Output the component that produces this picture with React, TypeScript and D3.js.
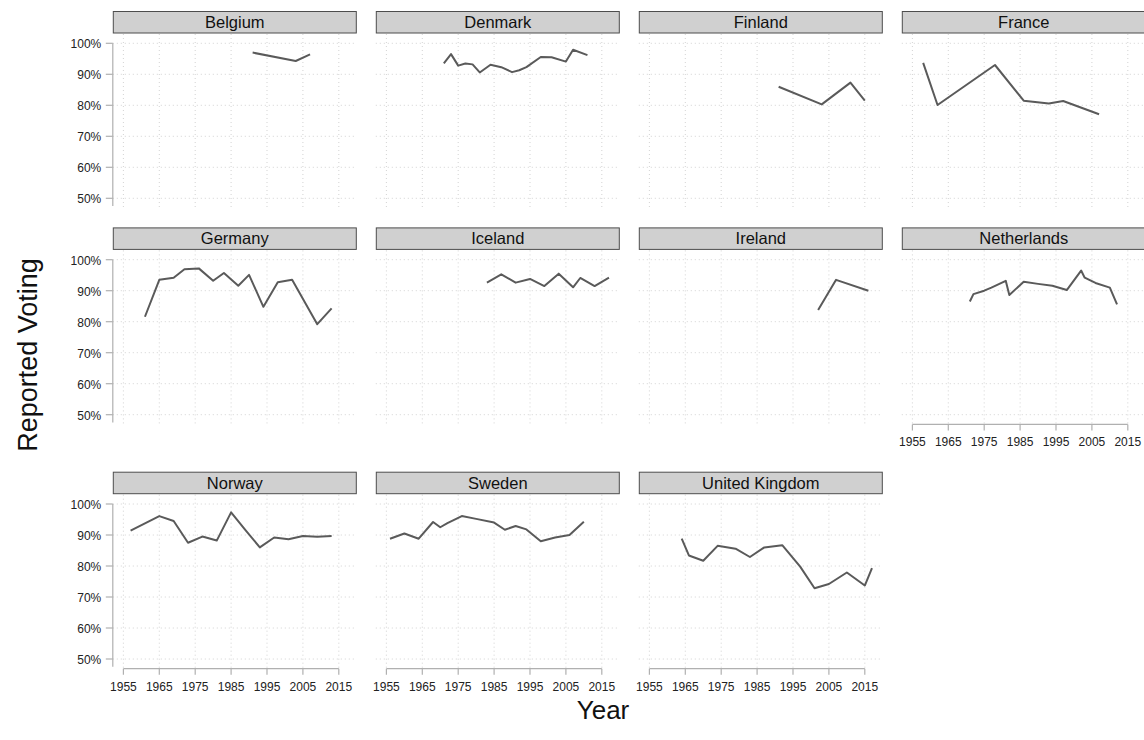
import React from "react";
import * as d3 from "d3";

const countries = ["Belgium", "Denmark", "Finland", "France", "Germany", "Iceland", "Ireland", "Netherlands", "Norway", "Sweden", "United Kingdom"];

const belgiumYears = [1991, 2003, 2007];
const belgiumVoting = [0.970, 0.943, 0.964];
const denmarkYears = [1971, 1973, 1975, 1977, 1979, 1981, 1984, 1987, 1990, 1992, 1994, 1998, 2001, 2005, 2007, 2011];
const denmarkVoting = [0.935, 0.965, 0.928, 0.935, 0.932, 0.906, 0.931, 0.923, 0.907, 0.913, 0.923, 0.956, 0.955, 0.941, 0.979, 0.962];
const finlandYears = [1991, 2003, 2011, 2015];
const finlandVoting = [0.860, 0.803, 0.873, 0.815];
const franceYears = [1958, 1962, 1978, 1986, 1993, 1997, 2007];
const franceVoting = [0.937, 0.801, 0.930, 0.815, 0.806, 0.814, 0.771];
const germanyYears = [1961, 1965, 1969, 1972, 1976, 1980, 1983, 1987, 1990, 1994, 1998, 2002, 2009, 2013];
const germanyVoting = [0.816, 0.935, 0.942, 0.969, 0.972, 0.932, 0.957, 0.916, 0.951, 0.848, 0.927, 0.935, 0.792, 0.843];
const icelandYears = [1983, 1987, 1991, 1995, 1999, 2003, 2007, 2009, 2013, 2017];
const icelandVoting = [0.926, 0.953, 0.926, 0.938, 0.915, 0.955, 0.911, 0.941, 0.915, 0.942];
const irelandYears = [2002, 2007, 2016];
const irelandVoting = [0.838, 0.935, 0.900];
const netherlandsYears = [1971, 1972, 1975, 1977, 1981, 1982, 1986, 1990, 1994, 1998, 2002, 2003, 2006, 2010, 2012];
const netherlandsVoting = [0.865, 0.889, 0.900, 0.910, 0.932, 0.886, 0.929, 0.922, 0.916, 0.902, 0.965, 0.942, 0.925, 0.910, 0.856];
const norwayYears = [1957, 1965, 1969, 1973, 1977, 1981, 1985, 1989, 1993, 1997, 2001, 2005, 2009, 2013];
const norwayVoting = [0.914, 0.961, 0.945, 0.875, 0.895, 0.882, 0.973, 0.916, 0.860, 0.892, 0.886, 0.897, 0.894, 0.897];
const swedenYears = [1956, 1960, 1964, 1968, 1970, 1972, 1976, 1980, 1985, 1988, 1991, 1994, 1998, 2002, 2006, 2010];
const swedenVoting = [0.888, 0.905, 0.888, 0.942, 0.925, 0.938, 0.961, 0.952, 0.940, 0.917, 0.929, 0.918, 0.880, 0.892, 0.900, 0.943];
const ukYears = [1964, 1966, 1970, 1974, 1979, 1983, 1987, 1992, 1997, 2001, 2005, 2010, 2015, 2017];
const ukVoting = [0.888, 0.834, 0.817, 0.865, 0.856, 0.829, 0.860, 0.867, 0.798, 0.728, 0.742, 0.779, 0.737, 0.793];

const yearTicks = [1955, 1965, 1975, 1985, 1995, 2005, 2015];
const votingTicks = [0.5, 0.6, 0.7, 0.8, 0.9, 1.0];

const seriesYears = [belgiumYears, denmarkYears, finlandYears, franceYears, germanyYears, icelandYears, irelandYears, netherlandsYears, norwayYears, swedenYears, ukYears];
const seriesVoting = [belgiumVoting, denmarkVoting, finlandVoting, franceVoting, germanyVoting, icelandVoting, irelandVoting, netherlandsVoting, norwayVoting, swedenVoting, ukVoting];

const FONT = "Liberation Sans, Arial, Helvetica, sans-serif";
const colLeft0 = 112.8;
const colStep = 263;
const panelW = 244;
const rowY100 = [43.3, 259.7, 504];
const stripH = 21.5;

export default function App() {
  const pct = d3.format(".0%");
  const panels = countries.map((name, i) => {
    const col = i % 4;
    const row = Math.floor(i / 4);
    const left = colLeft0 + col * colStep;
    const y100 = rowY100[row];
    const stripTop = y100 - 31.8;
    const panelTop = stripTop + stripH + 1;
    const panelBottom = y100 + 163.7;
    const x = d3.scaleLinear().domain([1955, 2015]).range([left + 10.6, left + 226]);
    const y = d3.scaleLinear().domain([0.5, 1]).range([y100 + 155, y100]);
    const pts = seriesYears[i].map((yr, k) => [yr, seriesVoting[i][k]] as [number, number]);
    const line = d3.line<[number, number]>().x(d => x(d[0])).y(d => y(d[1]));
    const showX = row === 2 || i === 7;
    const showY = col === 0;
    return (
      <g key={name}>
        {votingTicks.map(t => (
          <line key={"h" + t} x1={left} x2={left + panelW} y1={y(t)} y2={y(t)} stroke="#c8c8c8" strokeWidth={0.8} strokeDasharray="1 3" />
        ))}
        {yearTicks.map(t => (
          <line key={"v" + t} x1={x(t)} x2={x(t)} y1={panelTop} y2={panelBottom} stroke="#c8c8c8" strokeWidth={0.8} strokeDasharray="1 3" />
        ))}
        <path d={line(pts) || ""} fill="none" stroke="#5a5a5a" strokeWidth={2} strokeLinejoin="round" />
        <rect x={left + 0.5} y={stripTop} width={panelW - 1} height={stripH} fill="#d0d0d0" stroke="#4d4d4d" strokeWidth={1} />
        <text x={left + panelW / 2} y={stripTop + stripH / 2 + 5.8} textAnchor="middle" fontFamily={FONT} fontSize={16.5} fill="#111">{name}</text>
        {showY && (
          <g>
            <line x1={left} x2={left} y1={y(1)} y2={panelBottom - 1} stroke="#b0b0b0" strokeWidth={1.2} />
            {votingTicks.map(t => (
              <g key={"yt" + t}>
                <line x1={left - 7} x2={left} y1={y(t)} y2={y(t)} stroke="#b0b0b0" strokeWidth={1.2} />
                <text x={left - 11.5} y={y(t) + 5} textAnchor="end" fontFamily={FONT} fontSize={12} fill="#222">{pct(t)}</text>
              </g>
            ))}
          </g>
        )}
        {showX && (
          <g>
            <line x1={x(1955)} x2={x(2015)} y1={panelBottom + 1} y2={panelBottom + 1} stroke="#b0b0b0" strokeWidth={1.2} />
            {yearTicks.map(t => (
              <g key={"xt" + t}>
                <line x1={x(t)} x2={x(t)} y1={panelBottom + 1} y2={panelBottom + 7} stroke="#b0b0b0" strokeWidth={1.2} />
                <text x={x(t)} y={panelBottom + 23} textAnchor="middle" fontFamily={FONT} fontSize={12} fill="#222">{t}</text>
              </g>
            ))}
          </g>
        )}
      </g>
    );
  });
  return (
    <svg width={1144} height={740} style={{ position: "absolute", left: 0, top: 0, background: "#fff" }}>
      {panels}
      <text transform="translate(37,355) rotate(-90)" textAnchor="middle" fontFamily={FONT} fontSize={27} fill="#111">Reported Voting</text>
      <text x={603} y={719} textAnchor="middle" fontFamily={FONT} fontSize={26} fill="#111">Year</text>
    </svg>
  );
}
